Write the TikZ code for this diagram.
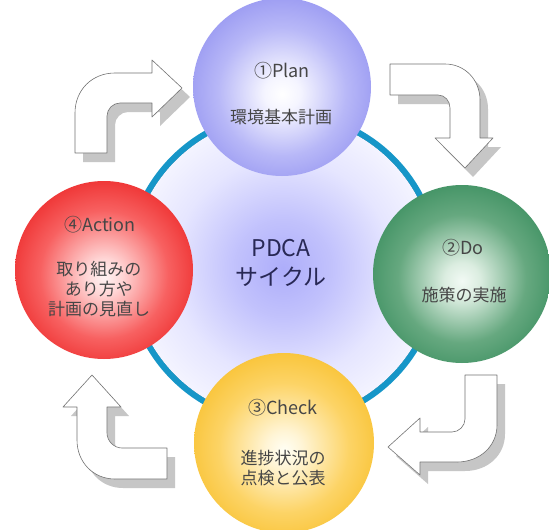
\documentclass[tikz,border=0pt]{standalone}
\usepackage{fontspec}
\setmainfont{Noto Sans CJK JP}
\newfontfamily\jp{Noto Sans CJK JP}
\definecolor{ringc}{RGB}{22,150,200}
\definecolor{txtc}{RGB}{70,70,70}
\definecolor{pdcac}{RGB}{40,40,85}
\definecolor{shadowc}{RGB}{198,198,198}
\definecolor{outlinec}{RGB}{115,115,115}
\pgfdeclareradialshading{glowsh}{\pgfpoint{0bp}{0bp}}{rgb(0bp)=(0.68,0.68,0.98); rgb(8bp)=(0.76,0.76,0.99); rgb(18bp)=(0.90,0.90,1); rgb(28bp)=(0.98,0.98,1); rgb(50bp)=(1,1,1)}
\pgfdeclareradialshading{plansh}{\pgfpoint{0bp}{-2bp}}{rgb(0bp)=(1,1,1); rgb(5bp)=(0.96,0.96,1); rgb(18bp)=(0.72,0.72,0.97); rgb(31bp)=(0.56,0.56,0.94); rgb(35bp)=(0.50,0.50,0.92); rgb(50bp)=(0.50,0.50,0.92)}
\pgfdeclareradialshading{dosh}{\pgfpoint{0bp}{-2bp}}{rgb(0bp)=(0.95,0.98,0.96); rgb(5bp)=(0.86,0.93,0.88); rgb(18bp)=(0.40,0.66,0.50); rgb(31bp)=(0.20,0.54,0.35); rgb(35bp)=(0.15,0.49,0.30); rgb(50bp)=(0.15,0.49,0.30)}
\pgfdeclareradialshading{checksh}{\pgfpoint{0bp}{-2bp}}{rgb(0bp)=(1,1,0.96); rgb(5bp)=(1,0.96,0.84); rgb(18bp)=(0.99,0.83,0.40); rgb(31bp)=(0.97,0.74,0.14); rgb(35bp)=(0.95,0.70,0.10); rgb(50bp)=(0.95,0.70,0.10)}
\pgfdeclareradialshading{actsh}{\pgfpoint{0bp}{-2bp}}{rgb(0bp)=(1,0.95,0.95); rgb(5bp)=(1,0.84,0.84); rgb(18bp)=(0.97,0.38,0.38); rgb(31bp)=(0.92,0.12,0.12); rgb(35bp)=(0.86,0.07,0.09); rgb(50bp)=(0.86,0.07,0.09)}
\tikzset{
  ball/.style={circle, inner sep=0pt, minimum size=178pt},
  lbl/.style={text=txtc, font=\jp\fontsize{18}{20}\selectfont, align=center, inner sep=0pt},
  body/.style={text=txtc, font=\jp\fontsize{17}{20}\selectfont, align=center, inner sep=0pt},
  arrowfill/.style={fill=white, draw=outlinec, line width=0.6pt, line join=round},
  arrowshadow/.style={fill=shadowc},
}
\newcommand\blockarrow[1]{%
  \fill[arrowshadow, shift={(8,9)}] #1;
  \path[arrowfill] #1;}
\begin{document}
\begin{tikzpicture}[x=1pt, y=-1pt]
\useasboundingbox (0,0) rectangle (549,530);
\fill[white] (0,0) rectangle (549,530);
% central glow and ring
\fill[shading=glowsh] (283,268) circle (152);
\coordinate (ctr) at (283,268);
\draw[ringc, line width=6pt] (ctr) circle (155);
% block arrows
\blockarrow{(75,153) -- (75,113) .. controls (75,90) and (92,73) .. (115,73) -- (152,73) -- (152,60) -- (182,88) -- (152,117) -- (152,103) -- (120,103) .. controls (113,103) and (107,109) .. (107,116) -- (107,153) -- cycle}
\blockarrow{(390,64) -- (445,64) .. controls (465,64) and (480,80) .. (480,100) -- (480,138) -- (493,138) -- (465,168) -- (435,138) -- (450,138) -- (450,108) .. controls (450,101) and (445,95) .. (438,95) -- (390,95) -- cycle}
\blockarrow{(465,375) -- (497,375) -- (497,425) .. controls (497,446) and (480,462) .. (457,462) -- (420,462) -- (420,475) -- (388,447) -- (420,418) -- (420,432) -- (452,432) .. controls (459,432) and (465,426) .. (465,419) -- cycle}
\blockarrow{(167,448) -- (122,448) .. controls (114,448) and (107,441) .. (107,433) -- (107,407) -- (121,407) -- (92,375) -- (63,407) -- (77,407) -- (77,440) .. controls (77,462) and (93,479) .. (115,479) -- (167,479) -- cycle}
% balls
\node[ball, shading=plansh] (plan) at (282,87) {};
\node[ball, shading=dosh] (do) at (462,274) {};
\node[ball, shading=checksh, minimum size=180pt] (check) at (284,443) {};
\node[ball, shading=actsh] (act) at (104,270) {};
% texts
\node[lbl] (planh) at (282,71) {①Plan};
\node[body] (planb) at (281,117) {環境基本計画};
\node[lbl] (doh) at (463,248) {②Do};
\node[body] (dob) at (464,295) {施策の実施};
\node[lbl] (checkh) at (283,408) {③Check};
\node[body] (checkb) at (283,468) {進捗状況の\\点検と公表};
\node[lbl] (acth) at (100,225) {④Action};
\node[body] (actb) at (99,289) {取り組みの\\あり方や\\計画の見直し};
\node[text=pdcac, font=\jp\fontsize{23}{29}\selectfont, align=center, inner sep=0pt] (pdca) at (281,263) {PDCA\\サイクル};
\end{tikzpicture}
\end{document}
